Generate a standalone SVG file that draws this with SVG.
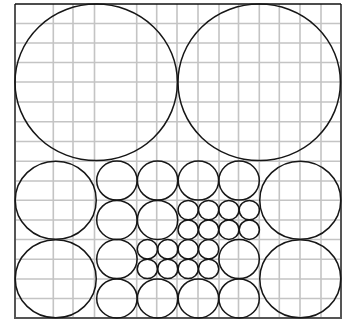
<svg xmlns="http://www.w3.org/2000/svg" width="343" height="320" viewBox="0 0 343 320">
<style>
.g{stroke:#c4c4c4;stroke-width:1.6;fill:none}
.b{stroke:#555;stroke-width:2;fill:none}
.c{stroke:#161616;stroke-width:1.5;fill:none}
</style>
<rect width="343" height="320" fill="#fff"/>
<g id="grid" class="g">
<path d="M53.3 4V318M73 4V318M94.5 4V318M136.7 4V318M156.7 4V318M177 4V318M198 4V318M219 4V318M238.5 4V318M259.3 4V318M279.3 4V318M300 4V318M321 4V318"/>
<path d="M15 23.5H341M15 43H341M15 62.5H341M15 82H341M15 102H341M15 121.7H341M15 141.5H341M15 161.3H341M15 181H341M15 200.3H341M15 220H341M15 239.5H341M15 259.3H341M15 279H341M15 298.5H341"/>
</g>
<g id="frame">
<path class="b" d="M15 4V318H341V4"/>
<path d="M15 4H341" stroke="#111" stroke-width="1.3" fill="none"/>
</g>
<g id="big">
<g id="big-1"><ellipse class="c" cx="96.2" cy="82.3" rx="81.2" ry="78.3"/></g>
<g id="big-2"><ellipse class="c" cx="259.2" cy="82.3" rx="81.2" ry="78.3"/></g>
</g>
<g id="large">
<g id="large-1"><ellipse class="c" cx="55.75" cy="200.25" rx="40.5" ry="39.1"/></g>
<g id="large-2"><ellipse class="c" cx="55.75" cy="278.75" rx="40.5" ry="39.1"/></g>
<g id="large-3"><ellipse class="c" cx="300.25" cy="200.25" rx="40.5" ry="39.1"/></g>
<g id="large-4"><ellipse class="c" cx="300.25" cy="278.75" rx="40.5" ry="39.1"/></g>
</g>
<g id="medium">
<g id="m-0-0"><ellipse class="c" cx="116.9" cy="180.6" rx="20.2" ry="19.5"/></g>
<g id="m-0-1"><ellipse class="c" cx="157.6" cy="180.6" rx="20.2" ry="19.5"/></g>
<g id="m-0-2"><ellipse class="c" cx="198.4" cy="180.6" rx="20.2" ry="19.5"/></g>
<g id="m-0-3"><ellipse class="c" cx="239.1" cy="180.6" rx="20.2" ry="19.5"/></g>
<g id="m-1-0"><ellipse class="c" cx="116.9" cy="219.9" rx="20.2" ry="19.5"/></g>
<g id="m-1-1"><ellipse class="c" cx="157.6" cy="219.9" rx="20.2" ry="19.5"/></g>
<g id="m-2-0"><ellipse class="c" cx="116.9" cy="259.1" rx="20.2" ry="19.5"/></g>
<g id="m-2-3"><ellipse class="c" cx="239.1" cy="259.1" rx="20.2" ry="19.5"/></g>
<g id="m-3-0"><ellipse class="c" cx="116.9" cy="298.4" rx="20.2" ry="19.5"/></g>
<g id="m-3-1"><ellipse class="c" cx="157.6" cy="298.4" rx="20.2" ry="19.5"/></g>
<g id="m-3-2"><ellipse class="c" cx="198.4" cy="298.4" rx="20.2" ry="19.5"/></g>
<g id="m-3-3"><ellipse class="c" cx="239.1" cy="298.4" rx="20.2" ry="19.5"/></g>
</g>
<g id="small">
<g id="s-a1"><ellipse class="c" cx="188.2" cy="210.1" rx="10.1" ry="9.7"/></g>
<g id="s-a2"><ellipse class="c" cx="208.6" cy="210.1" rx="10.1" ry="9.7"/></g>
<g id="s-a3"><ellipse class="c" cx="228.9" cy="210.1" rx="10.1" ry="9.7"/></g>
<g id="s-a4"><ellipse class="c" cx="249.3" cy="210.1" rx="10.1" ry="9.7"/></g>
<g id="s-b1"><ellipse class="c" cx="188.2" cy="229.7" rx="10.1" ry="9.7"/></g>
<g id="s-b2"><ellipse class="c" cx="208.6" cy="229.7" rx="10.1" ry="9.7"/></g>
<g id="s-b3"><ellipse class="c" cx="228.9" cy="229.7" rx="10.1" ry="9.7"/></g>
<g id="s-b4"><ellipse class="c" cx="249.3" cy="229.7" rx="10.1" ry="9.7"/></g>
<g id="s-c1"><ellipse class="c" cx="147.4" cy="249.3" rx="10.1" ry="9.7"/></g>
<g id="s-c2"><ellipse class="c" cx="167.8" cy="249.3" rx="10.1" ry="9.7"/></g>
<g id="s-c3"><ellipse class="c" cx="188.2" cy="249.3" rx="10.1" ry="9.7"/></g>
<g id="s-c4"><ellipse class="c" cx="208.6" cy="249.3" rx="10.1" ry="9.7"/></g>
<g id="s-d1"><ellipse class="c" cx="147.4" cy="268.9" rx="10.1" ry="9.7"/></g>
<g id="s-d2"><ellipse class="c" cx="167.8" cy="268.9" rx="10.1" ry="9.7"/></g>
<g id="s-d3"><ellipse class="c" cx="188.2" cy="268.9" rx="10.1" ry="9.7"/></g>
<g id="s-d4"><ellipse class="c" cx="208.6" cy="268.9" rx="10.1" ry="9.7"/></g>
</g>
<g id="connectors"/>
</svg>
